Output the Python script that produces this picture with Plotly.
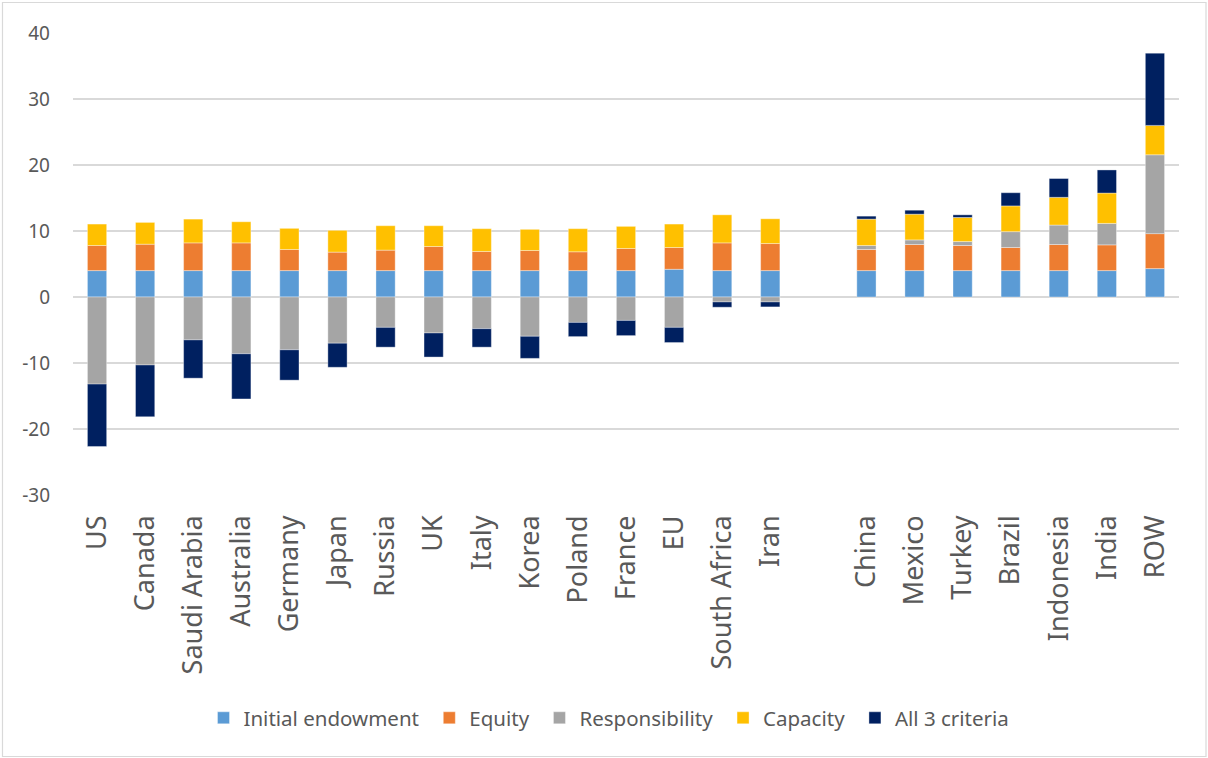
import plotly.graph_objects as go

countries = ["US", "Canada", "Saudi Arabia", "Australia", "Germany", "Japan", "Russia", "UK",
             "Italy", "Korea", "Poland", "France", "EU", "South Africa", "Iran", " ",
             "China", "Mexico", "Turkey", "Brazil", "Indonesia", "India", "ROW"]

initial_endowment = [4.0, 4.0, 4.0, 4.0, 4.0, 4.0, 4.0, 4.0, 4.0, 4.0, 4.0, 4.0, 4.2, 4.0, 4.0, None,
                     4.0, 4.0, 4.0, 4.0, 4.0, 4.0, 4.3]
equity = [3.8, 4.0, 4.2, 4.2, 3.2, 2.8, 3.1, 3.65, 2.9, 3.05, 2.85, 3.35, 3.3, 4.2, 4.1, None,
          3.2, 3.95, 3.8, 3.5, 3.95, 3.9, 5.3]
responsibility = [-13.2, -10.3, -6.5, -8.6, -8.0, -7.0, -4.6, -5.45, -4.8, -5.95, -3.85, -3.55, -4.6,
                  -0.75, -0.75, None, 0.6, 0.7, 0.6, 2.4, 2.95, 3.25, 11.95]
capacity = [3.25, 3.3, 3.6, 3.2, 3.2, 3.3, 3.7, 3.15, 3.45, 3.2, 3.5, 3.35, 3.55, 4.25, 3.75, None,
            4.0, 3.9, 3.65, 3.9, 4.2, 4.6, 4.45]
all_3_criteria = [-9.45, -7.85, -5.8, -6.85, -4.6, -3.65, -3.0, -3.65, -2.8, -3.35, -2.15, -2.3, -2.3,
                  -0.8, -0.75, None, 0.45, 0.6, 0.4, 2.0, 2.85, 3.5, 10.95]

y_tick_values = [-30, -20, -10, 0, 10, 20, 30, 40]
y_tick_labels = ["-30", "-20", "-10", "0", "10", "20", "30", "40"]

series = [
    ("Initial endowment", initial_endowment, "#5B9BD5"),
    ("Equity", equity, "#ED7D31"),
    ("Responsibility", responsibility, "#A5A5A5"),
    ("Capacity", capacity, "#FFC000"),
    ("All 3 criteria", all_3_criteria, "#002060"),
]

font_family = "Noto Sans"
text_color = "#595959"
pad = "\u00a0"

fig = go.Figure()
for i, (name, vals, color) in enumerate(series):
    fig.add_trace(go.Bar(
        x=countries, y=vals, name=name + (pad if i < len(series) - 1 else ""),
        marker=dict(color=color, line=dict(color="rgba(255,255,255,0.45)", width=0.8)),
    ))

L, R, T, B = 73, 29, 33, 263
W, H = 1208, 758
pw, ph = W - L - R, H - T - B

fig.update_layout(
    width=W, height=H,
    barmode="relative",
    bargap=0.6,
    margin=dict(l=L, r=R, t=T, b=B),
    paper_bgcolor="white",
    plot_bgcolor="white",
    font=dict(family=font_family, color=text_color),
    showlegend=True,
    legend=dict(
        orientation="h",
        x=(609 - L) / pw, xanchor="center",
        y=(T + ph - 718) / ph, yanchor="middle",
        font=dict(size=20.5, color=text_color, family=font_family),
        traceorder="normal",
        itemwidth=30,
    ),
    xaxis=dict(
        type="category",
        categoryorder="array",
        categoryarray=countries,
        tickangle=-90,
        tickfont=dict(size=27, color=text_color, family=font_family),
        showgrid=False,
        showline=False,
        zeroline=False,
        ticks="",
        ticklabelstandoff=14,
    ),
    yaxis=dict(
        range=[-30, 40],
        tickmode="array",
        tickvals=y_tick_values,
        ticktext=y_tick_labels,
        showgrid=True,
        gridcolor="#D9D9D9",
        gridwidth=1.5,
        zeroline=False,
        showline=False,
        ticks="",
        tickfont=dict(size=19, color=text_color, family=font_family),
        ticklabelstandoff=22,
    ),
    shapes=[dict(
        type="rect", xref="paper", yref="paper",
        x0=(2.5 - L) / pw, x1=(1206 - L) / pw,
        y0=(T + ph - 756.5) / ph, y1=(T + ph - 2.5) / ph,
        line=dict(color="#D9D9D9", width=1.2),
        fillcolor="rgba(0,0,0,0)",
        layer="below",
    )],
)

fig.write_html(
    "out.html",
    config={"displayModeBar": False},
    post_script="document.body.style.margin='0';document.body.style.padding='0';"
                "document.documentElement.style.overflow='hidden';",
)
